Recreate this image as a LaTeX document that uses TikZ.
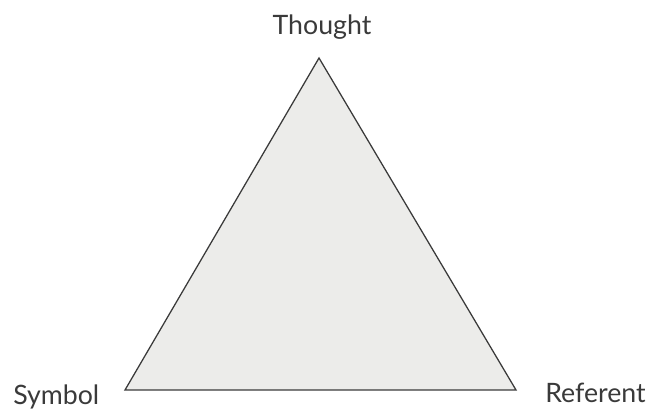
\documentclass[tikz,border=0pt]{standalone}
\usepackage{fontspec}
\setmainfont{Lato}
\usetikzlibrary{positioning}
\definecolor{ink}{HTML}{3A3A3A}
\definecolor{trifill}{HTML}{ECECEA}
\tikzset{
  cornerlabel/.style={font=\fontsize{19}{23}\selectfont, text=ink, inner sep=0pt},
  triedge/.style={draw=ink, line width=0.9pt, line join=miter, fill=trifill}
}

\begin{document}
\begin{tikzpicture}
  \useasboundingbox (0,0) rectangle (16.175,10.225);

  \coordinate (apex) at (7.975,8.775);
  \coordinate (left) at (3.125,0.475);
  \coordinate (right) at (12.9,0.475);

  \node[cornerlabel, anchor=base] (thought) at (8.05,9.35) {Thought};
  \node[cornerlabel, anchor=base west] (symbol) at (0.325,0.125) {Symbol};
  \node[cornerlabel, anchor=base east] (referent) at (16.15,0.15) {Referent};

  \draw[triedge] (left) -- (apex) -- (right) -- cycle;
\end{tikzpicture}
\end{document}
